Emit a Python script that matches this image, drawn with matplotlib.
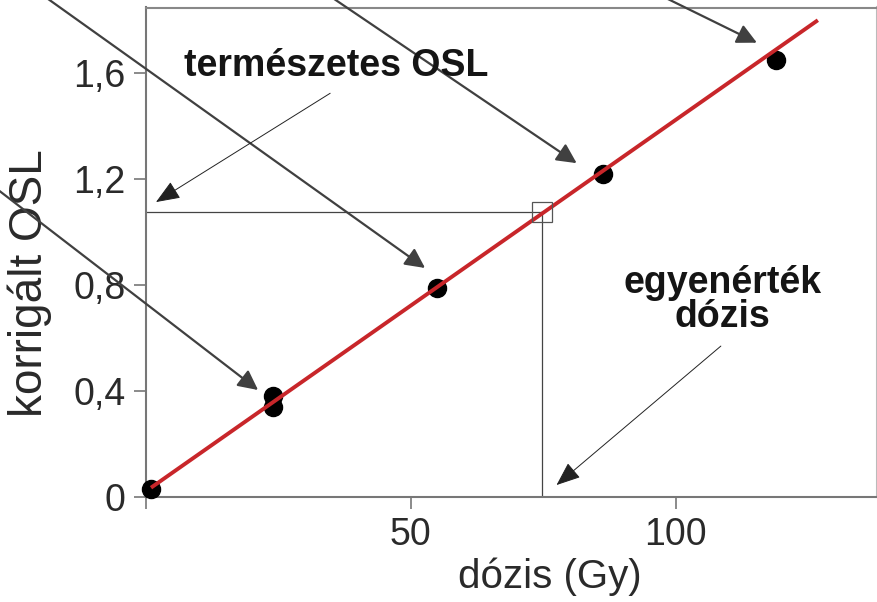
import numpy as np
import matplotlib
matplotlib.use("Agg")
import matplotlib.pyplot as plt

plt.rcParams['font.family'] = ['Liberation Sans', 'DejaVu Sans']

# measured points (dose in Gy, corrected OSL)
dose = [1, 24, 24, 55, 86.2, 118.9]
osl = [0.03, 0.38, 0.34, 0.79, 1.22, 1.65]

# growth curve (red line) end points
fit_x = [1, 126.8]
fit_y = [0.034, 1.80]

# natural OSL and equivalent dose
nat_osl = 1.075
eq_dose = 74.8

y_ticks = [0, 0.4, 0.8, 1.2, 1.6]
y_labels = ['0', '0,4', '0,8', '1,2', '1,6']
x_ticks = [0, 50, 100]
x_labels = ['', '50', '100']

fig = plt.figure(figsize=(8.78, 6.02), dpi=100)
ax = fig.add_axes([145.7 / 878, 1 - 496.7 / 602, 731 / 878, 489.2 / 602])
ax.set_xlim(0, 137.9)
ax.set_ylim(0, 1.848)

# construction lines for the equivalent dose
ax.plot([0, eq_dose], [nat_osl, nat_osl], color='#444444', lw=0.9, zorder=2)
ax.plot([eq_dose, eq_dose], [0, nat_osl], color='#444444', lw=0.9, zorder=2)
ax.plot([eq_dose], [nat_osl], marker='s', ms=15, mfc='none', mec='#555555', mew=0.9, zorder=5)

ax.plot(dose, osl, 'o', color='black', ms=13, zorder=3, clip_on=False)
ax.plot(fit_x, fit_y, color='#c8262a', lw=2.8, zorder=4, solid_capstyle='butt')

# long arrows pointing at the regeneration points
long_arrows = [((-29.4, 1.183), (21.2, 0.403)),
               ((-23.3, 1.95), (52.7, 0.864)),
               ((30.4, 1.95), (81.3, 1.26)),
               ((91.4, 1.95), (115.3, 1.715))]
for start, tip in long_arrows:
    ax.annotate('', xy=tip, xytext=start, annotation_clip=False,
                arrowprops=dict(arrowstyle='-|>,head_length=1.2,head_width=0.6',
                                mutation_scale=10, color='#404040', lw=1.6,
                                shrinkA=0, shrinkB=0))

# labels with thin arrows
ax.text(35.9, 1.627, 'természetes OSL', ha='center', va='center',
        fontsize=27, fontweight='bold', color='#151515')
ax.annotate('', xy=(1.94, 1.113), xytext=(34.8, 1.524),
            arrowprops=dict(arrowstyle='-|>,head_length=1.5,head_width=0.6',
                            mutation_scale=10, color='#222222', lw=0.7,
                            shrinkA=0, shrinkB=0))
ax.text(108.8, 0.743, 'egyenérték\ndózis', ha='center', va='center',
        fontsize=27, fontweight='bold', color='#151515', linespacing=0.95)
ax.annotate('', xy=(77.5, 0.044), xytext=(108.5, 0.569),
            arrowprops=dict(arrowstyle='-|>,head_length=1.5,head_width=0.6',
                            mutation_scale=10, color='#222222', lw=0.7,
                            shrinkA=0, shrinkB=0))

ax.set_xticks(x_ticks)
ax.set_xticklabels(x_labels)
ax.set_yticks(y_ticks)
ax.set_yticklabels(y_labels)
ax.tick_params(axis='both', length=8.5, width=1.2, color='#777777',
               labelsize=27, labelcolor='#2a2a2a', pad=6)

for side in ['left', 'bottom']:
    ax.spines[side].set_color('#777777')
    ax.spines[side].set_linewidth(1.5)
ax.spines['top'].set_color('#888888')
ax.spines['right'].set_color('#bbbbbb')
ax.spines['top'].set_linewidth(1.5)
ax.spines['right'].set_linewidth(1.5)

ax.set_xlabel('dózis (Gy)', fontsize=29, color='#2a2a2a')
ax.xaxis.set_label_coords(0.553, -0.125)
ax.set_ylabel('korrigált OSL', fontsize=33, color='#2a2a2a')
ax.yaxis.set_label_coords(-0.128, 0.437)

fig.savefig('out.png', dpi=100)
